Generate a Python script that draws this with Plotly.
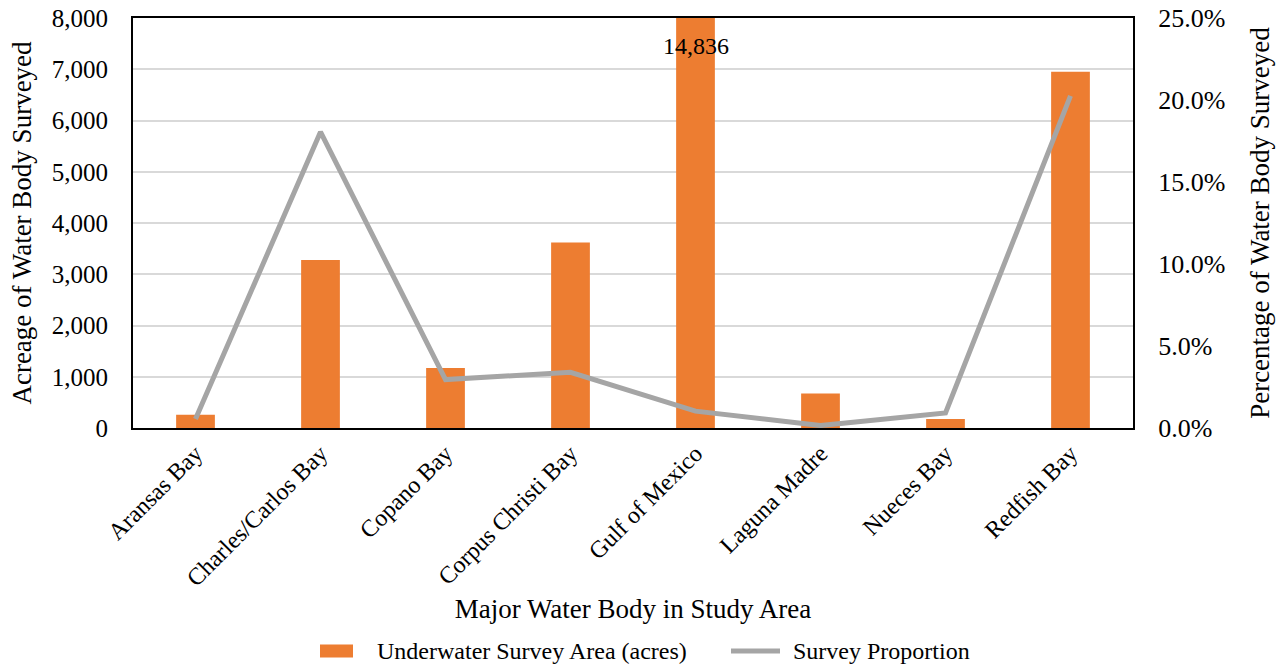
import plotly.graph_objects as go

# Survey coverage by major water body
water_bodies = ["Aransas Bay", "Charles/Carlos Bay", "Copano Bay", "Corpus Christi Bay",
                "Gulf of Mexico", "Laguna Madre", "Nueces Bay", "Redfish Bay"]
survey_acres = [260, 3280, 1170, 3620, 14836, 675, 175, 6950]
survey_share = [0.0055, 0.1805, 0.0295, 0.0340, 0.0103, 0.0015, 0.0092, 0.2025]

FONT = "Liberation Serif"
ORANGE = "#ED7D31"
GRAY = "#A5A5A5"
BAR_NAME = "Underwater Survey Area (acres)"
LINE_NAME = "Survey Proportion"

fig = go.Figure()
fig.add_trace(go.Bar(
    x=water_bodies, y=survey_acres, name=BAR_NAME,
    marker=dict(color=ORANGE, line=dict(width=0)), yaxis="y", showlegend=False,
))
fig.add_trace(go.Scatter(
    x=water_bodies, y=survey_share, name=LINE_NAME, mode="lines",
    line=dict(color=GRAY, width=5), yaxis="y2", showlegend=False,
))

# Value label for the bar that runs past the axis maximum
gulf_idx = water_bodies.index("Gulf of Mexico")
fig.add_annotation(
    x=water_bodies[gulf_idx], y=7450, xref="x", yref="y",
    text=f"{survey_acres[gulf_idx]:,}", showarrow=False,
    font=dict(family=FONT, size=24, color="black"),
)

# Legend below the x-axis title: wide bar swatch and line sample
LEG_Y = -0.544
fig.add_shape(type="rect", xref="paper", yref="paper",
              x0=0.187, x1=0.220, y0=LEG_Y - 0.016, y1=LEG_Y + 0.016,
              fillcolor=ORANGE, line=dict(width=0))
fig.add_annotation(x=0.242, y=LEG_Y, xref="paper", yref="paper", text=BAR_NAME,
                   showarrow=False, xanchor="left", yanchor="middle",
                   font=dict(family=FONT, size=24, color="black"))
fig.add_shape(type="line", xref="paper", yref="paper",
              x0=0.598, x1=0.647, y0=LEG_Y, y1=LEG_Y,
              line=dict(color=GRAY, width=5))
fig.add_annotation(x=0.658, y=LEG_Y, xref="paper", yref="paper", text=LINE_NAME,
                   showarrow=False, xanchor="left", yanchor="middle",
                   font=dict(family=FONT, size=24, color="black"))

fig.update_layout(
    width=1285, height=667,
    margin=dict(l=133, r=152, t=18, b=239, autoexpand=False),
    paper_bgcolor="white", plot_bgcolor="white",
    font=dict(family=FONT, size=24, color="black"),
    bargap=0.69,
    showlegend=False,
    xaxis=dict(
        tickangle=-45, showline=True, linecolor="black", linewidth=2, mirror=True,
        ticks="", ticklabelstandoff=0, tickfont=dict(size=24), automargin=False,
        title=dict(text="Major Water Body in Study Area", font=dict(size=27), standoff=9),
    ),
    yaxis=dict(
        range=[0, 8000], dtick=1000, tickformat=",d", automargin=False,
        tickfont=dict(size=25),
        showgrid=True, gridcolor="#D9D9D9", gridwidth=1.5,
        showline=True, linecolor="black", linewidth=2, ticks="",
        ticklabelstandoff=18, zeroline=False,
        title=dict(text="Acreage of Water Body Surveyed", font=dict(size=27), standoff=12),
    ),
    yaxis2=dict(
        range=[0, 0.25], dtick=0.05, tickformat=".1%", overlaying="y", side="right",
        tickfont=dict(size=26),
        showgrid=False, showline=True, linecolor="black", linewidth=2, ticks="",
        ticklabelstandoff=18, zeroline=False, automargin=False,
        title=dict(text="Percentage of Water Body Surveyed", font=dict(size=27), standoff=26),
    ),
)

fig.write_html("out.html")
